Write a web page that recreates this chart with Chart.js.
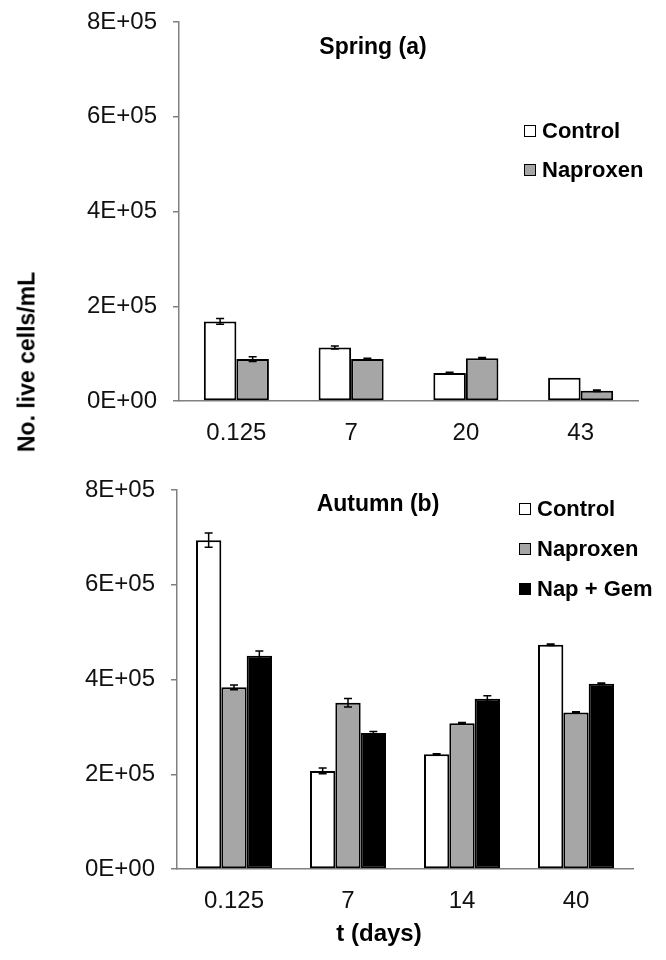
<!DOCTYPE html>
<html>
<head>
<meta charset="utf-8">
<script src="https://cdn.jsdelivr.net/npm/chart.js@4.4.1/dist/chart.umd.min.js"></script>
<style>
  html, body { margin: 0; padding: 0; background: #fff; }
  #wrap { position: relative; width: 666px; height: 960px; overflow: hidden; font-family: "Liberation Sans", Arial, sans-serif; }
  canvas { position: absolute; left: 0; }
  #ytitle { position: absolute; left: 27px; top: 362px; transform: translate(-50%, -50%) rotate(-90deg); font-weight: bold; font-size: 23px; white-space: nowrap; color: #000; }
  #xtitle { position: absolute; left: 379px; top: 933px; transform: translate(-50%, -50%); font-weight: bold; font-size: 24px; white-space: nowrap; color: #000; }
</style>
</head>
<body>
<div id="wrap">
  <canvas id="top" width="666" height="460" style="top:0px;width:666px;height:460px"></canvas>
  <canvas id="bot" width="666" height="500" style="top:460px;width:666px;height:500px"></canvas>
  <div id="ytitle">No. live cells/mL</div>
  <div id="xtitle">t (days)</div>
</div>
<script>
// ---- data ----
const springDays = ['0.125', '7', '20', '43'];
const springControl = [168000, 113000, 59000, 49000];
const springControlErr = [6000, 3000, 1500, 0];
const springNaproxen = [88500, 88500, 90500, 21500];
const springNaproxenErr = [5000, 2000, 1500, 1500];

const autumnDays = ['0.125', '7', '14', '40'];
const autumnControl = [694000, 207000, 242000, 473500];
const autumnControlErr = [15000, 6000, 1500, 1500];
const autumnNaproxen = [383500, 351000, 307500, 330500];
const autumnNaproxenErr = [5000, 9000, 1500, 1500];
const autumnNapGem = [450000, 287000, 359500, 391000];
const autumnNapGemErr = [10000, 3000, 6000, 1500];

const yTicks = [0, 200000, 400000, 600000, 800000];

// ---- helpers ----
function sci(v) {
  if (v === 0) return '0E+00';
  const e = Math.floor(Math.log10(v));
  const m = Math.round(v / Math.pow(10, e));
  return m + 'E+' + String(e).padStart(2, '0');
}

const errorBarPlugin = {
  id: 'errorBars',
  afterDatasetsDraw(chart) {
    const ctx = chart.ctx;
    const y = chart.scales.y;
    ctx.save();
    ctx.strokeStyle = '#000';
    ctx.lineWidth = 1.5;
    chart.data.datasets.forEach((ds, di) => {
      const meta = chart.getDatasetMeta(di);
      meta.data.forEach((bar, i) => {
        const err = ds.errors ? ds.errors[i] : 0;
        if (!err) return;
        const v = ds.data[i];
        const y1 = y.getPixelForValue(v + err);
        const y2 = y.getPixelForValue(v - err);
        const x = bar.x;
        ctx.beginPath();
        ctx.moveTo(x, y1); ctx.lineTo(x, y2);
        ctx.moveTo(x - 4, y1); ctx.lineTo(x + 4, y1);
        ctx.moveTo(x - 4, y2); ctx.lineTo(x + 4, y2);
        ctx.stroke();
      });
    });
    ctx.restore();
  }
};

const annotPlugin = {
  id: 'annot',
  afterDraw(chart, args, opts) {
    const ctx = chart.ctx;
    ctx.save();
    ctx.fillStyle = '#000';
    ctx.textBaseline = 'middle';
    ctx.font = 'bold 23px "Liberation Sans", Arial, sans-serif';
    ctx.textAlign = 'center';
    ctx.fillText(opts.title, opts.titleX, opts.titleY);
    ctx.font = 'bold 22px "Liberation Sans", Arial, sans-serif';
    ctx.textAlign = 'left';
    chart.data.datasets.forEach((ds, i) => {
      const ly = opts.legendY + i * opts.legendGap;
      ctx.fillStyle = ds.backgroundColor;
      ctx.fillRect(opts.legendX, ly - 6, 12, 12);
      ctx.strokeStyle = '#000';
      ctx.lineWidth = 1;
      ctx.strokeRect(opts.legendX + 0.5, ly - 5.5, 11, 11);
      ctx.fillStyle = '#000';
      ctx.fillText(ds.label, opts.legendX + 18, ly + 1);
    });
    ctx.restore();
  }
};

function makeOptions(cfg) {
  return {
    responsive: false,
    animation: false,
    devicePixelRatio: 1,
    layout: { padding: { top: cfg.padTop, right: cfg.padRight, left: 0, bottom: 0 } },
    plugins: {
      legend: { display: false },
      tooltip: { enabled: false },
      annot: cfg.annot
    },
    datasets: { bar: { categoryPercentage: cfg.catPct, barPercentage: 1.0 } },
    scales: {
      x: {
        grid: { display: false },
        border: { display: true, color: '#808080', width: 1.5 },
        ticks: { color: '#111', font: { size: 24, family: '"Liberation Sans", Arial, sans-serif' }, padding: 10, maxRotation: 0 },
        afterFit(s) { s.height = cfg.xHeight; s.paddingLeft = 0; s.paddingRight = 0; }
      },
      y: {
        min: 0, max: 800000,
        afterBuildTicks(s) { s.ticks = yTicks.map(v => ({ value: v })); },
        grid: { display: true, drawOnChartArea: false, drawTicks: true, tickLength: 6, color: '#808080', lineWidth: 1.5 },
        border: { display: true, color: '#808080', width: 1.5 },
        ticks: { color: '#111', font: { size: 24, family: '"Liberation Sans", Arial, sans-serif' }, padding: 16, callback: v => sci(v) },
        afterFit(s) { s.width = cfg.yWidth; s.paddingTop = 0; s.paddingBottom = 0; }
      }
    }
  };
}

function barDs(label, data, errors, color) {
  return { label, data, errors, backgroundColor: color, borderColor: '#000', borderWidth: 2, borderSkipped: false };
}

new Chart(document.getElementById('top'), {
  type: 'bar',
  data: {
    labels: springDays,
    datasets: [
      barDs('Control', springControl, springControlErr, '#ffffff'),
      barDs('Naproxen', springNaproxen, springNaproxenErr, '#a6a6a6')
    ]
  },
  options: makeOptions({
    padTop: 22, padRight: 28, yWidth: 179, xHeight: 59, catPct: 0.567,
    annot: { title: 'Spring (a)', titleX: 373, titleY: 48, legendX: 524, legendY: 131, legendGap: 39 }
  }),
  plugins: [errorBarPlugin, annotPlugin]
});

new Chart(document.getElementById('bot'), {
  type: 'bar',
  data: {
    labels: autumnDays,
    datasets: [
      barDs('Control', autumnControl, autumnControlErr, '#ffffff'),
      barDs('Naproxen', autumnNaproxen, autumnNaproxenErr, '#a6a6a6'),
      barDs('Nap + Gem', autumnNapGem, autumnNapGemErr, '#000000')
    ]
  },
  options: makeOptions({
    padTop: 30, padRight: 33, yWidth: 177, xHeight: 91, catPct: 0.667,
    annot: { title: 'Autumn (b)', titleX: 378, titleY: 45, legendX: 519, legendY: 49, legendGap: 40 }
  }),
  plugins: [errorBarPlugin, annotPlugin]
});
</script>
</body>
</html>
